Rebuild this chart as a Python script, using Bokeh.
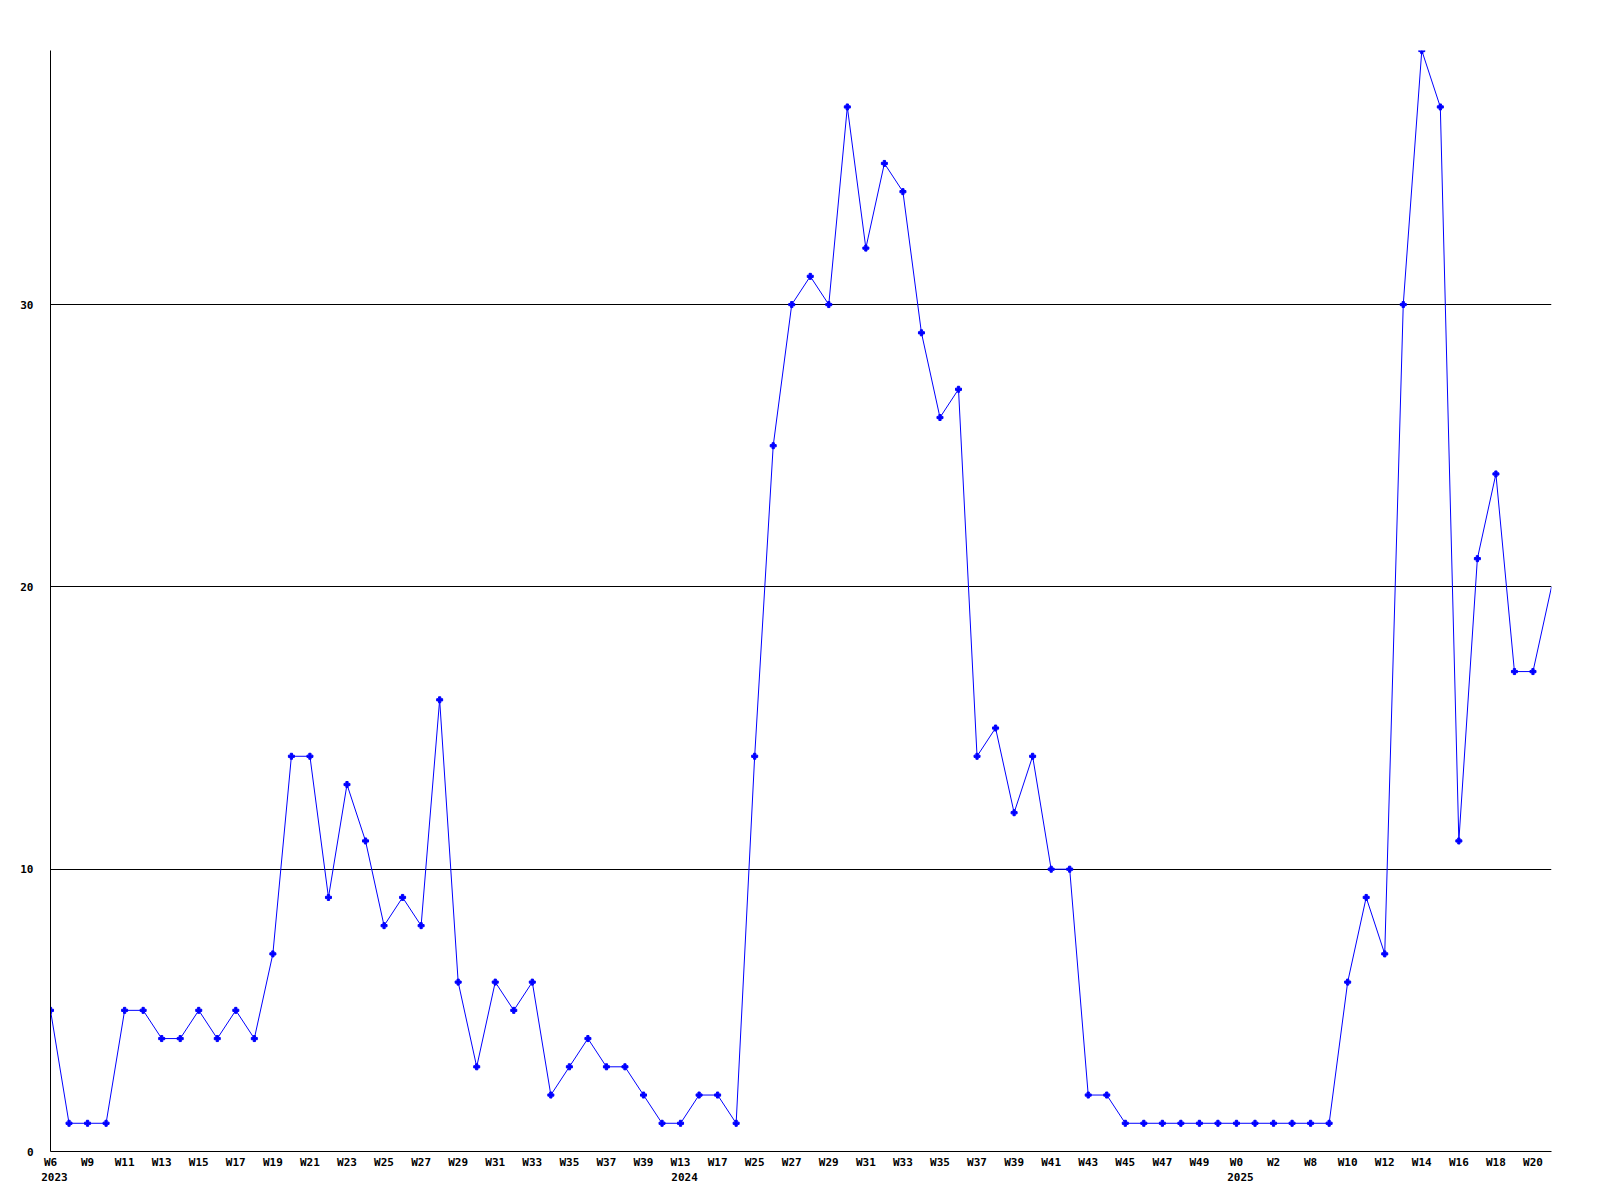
from bokeh.plotting import figure
from bokeh.models import FixedTicker, Range1d, LinearAxis
from bokeh.embed import file_html
from bokeh.resources import INLINE

# weekly counts (one value per week, in order)
counts = [5, 1, 1, 1, 5, 5, 4, 4, 5, 4, 5, 4, 7, 14, 14, 9, 13, 11, 8, 9,
          8, 16, 6, 3, 6, 5, 6, 2, 3, 4, 3, 3, 2, 1, 1, 2, 2, 1, 14, 25,
          30, 31, 30, 37, 32, 35, 34, 29, 26, 27, 14, 15, 12, 14, 10, 10, 2, 2, 1, 1,
          1, 1, 1, 1, 1, 1, 1, 1, 1, 1, 6, 9, 7, 30, 39, 37, 11, 21, 24, 17,
          17, 20]

# tick labels: one for every second week
week_labels = ["W6", "W9", "W11", "W13", "W15", "W17", "W19", "W21", "W23", "W25",
               "W27", "W29", "W31", "W33", "W35", "W37", "W39", "W13", "W17", "W25",
               "W27", "W29", "W31", "W33", "W35", "W37", "W39", "W41", "W43", "W45",
               "W47", "W49", "W0", "W2", "W8", "W10", "W12", "W14", "W16", "W18", "W20"]
year_labels = ["2023", "2024", "2025"]
year_label_pos = [0, 34, 64]  # week index where each year starts

y_ticks = [0, 10, 20, 30]

FONT = "DejaVu Sans Mono"
W, H = 1584, 1184
LEFT, TOP, RIGHT, BOTTOM = 50, 50, 33, 33

x = list(range(len(counts)))
n = len(counts)

p = figure(width=W, height=H, output_backend="svg", toolbar_location=None,
           x_range=Range1d(0, n - 1), y_range=Range1d(0, max(counts)),
           x_axis_location=None,
           min_border_left=LEFT, min_border_right=RIGHT,
           min_border_top=TOP, min_border_bottom=BOTTOM)

p.outline_line_color = None
p.background_fill_color = "white"
p.border_fill_color = "white"

# year labels sit a few px right of their week (left-aligned look)
px_per_unit = (W - LEFT - RIGHT) / (n - 1)
yr_shift = 4 / px_per_unit
p.extra_x_ranges = {"yr": Range1d(0 - yr_shift, n - 1 - yr_shift)}

# y axis
p.yaxis.ticker = FixedTicker(ticks=y_ticks)
p.yaxis.axis_line_color = "black"
p.yaxis.axis_line_width = 1
p.yaxis.major_tick_line_color = None
p.yaxis.minor_tick_line_color = None
p.yaxis.major_tick_out = 0
p.yaxis.major_tick_in = 0
p.yaxis.major_label_standoff = 17
p.yaxis.major_label_text_font = FONT
p.yaxis.major_label_text_font_style = "bold"
p.yaxis.major_label_text_font_size = "11px"
p.yaxis.major_label_text_color = "black"

week_ticks = list(range(0, 2 * len(week_labels), 2))
wk_axis = LinearAxis(ticker=FixedTicker(ticks=week_ticks),
                     major_label_overrides={t: s for t, s in zip(week_ticks, week_labels)},
                     axis_line_color="black", axis_line_width=1,
                     major_tick_line_color=None, minor_tick_line_color=None,
                     major_tick_out=0, major_tick_in=0,
                     major_label_standoff=4,
                     major_label_text_font=FONT, major_label_text_font_style="bold",
                     major_label_text_font_size="11px", major_label_text_color="black")
p.add_layout(wk_axis, "below")

yr_axis = LinearAxis(x_range_name="yr", ticker=FixedTicker(ticks=year_label_pos),
                     major_label_overrides={t: s for t, s in zip(year_label_pos, year_labels)},
                     axis_line_color=None,
                     major_tick_line_color=None, minor_tick_line_color=None,
                     major_tick_out=0, major_tick_in=0,
                     major_label_standoff=1,
                     major_label_text_font=FONT, major_label_text_font_style="bold",
                     major_label_text_font_size="11px", major_label_text_color="black")
p.add_layout(yr_axis, "below")

p.xgrid.visible = False
p.ygrid.ticker = FixedTicker(ticks=[t for t in y_ticks if t > 0])
p.ygrid.grid_line_color = "black"
p.ygrid.grid_line_alpha = 1.0
p.ygrid.grid_line_width = 1

p.line(x, counts, line_color="#0000ff", line_width=1)
p.scatter(x[:-1], counts[:-1], marker="plus", size=6, color="#0000ff")

open("out.html", "w").write(file_html(p, INLINE))
